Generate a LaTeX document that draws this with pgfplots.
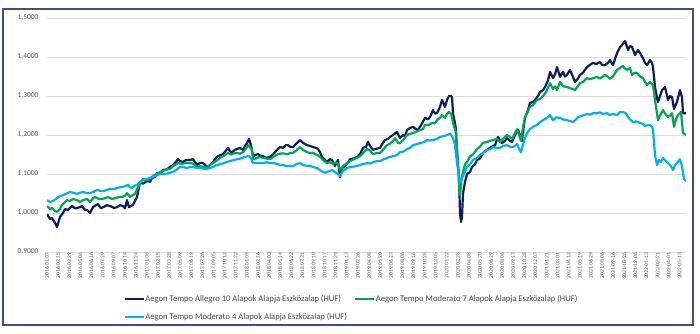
\documentclass[border=0pt]{standalone}
\usepackage{pgfplots}
\pgfplotsset{compat=1.18}
\usepackage{fontspec}
\setmainfont{Carlito}
\definecolor{navyc}{HTML}{0B1F5F}
\definecolor{greenc}{HTML}{00A650}
\definecolor{lbluec}{HTML}{00B0F0}
\definecolor{framec}{HTML}{3F5184}
\definecolor{gridc}{HTML}{DDDDDD}
\definecolor{tickc}{HTML}{595959}
\begin{document}
\begin{tikzpicture}[x=1pt,y=1pt]
\path[use as bounding box] (0,0) rectangle (700,333);
\fill[white] (0,0) rectangle (700,333);
\draw[framec, line width=1.6pt] (3,8) rectangle (693,324);
\begin{axis}[
  at={(47pt,81pt)}, anchor=south west,
  scale only axis, width=639pt, height=234pt,
  xmin=47, xmax=686, ymin=0.9, ymax=1.5,
  axis line style={draw=none},
  major tick length=0pt,
  ymajorgrids, grid style={gridc, line width=0.9pt},
  ytick={0.9,1,1.1,1.2,1.3,1.4,1.5},
  yticklabel style={font=\fontsize{7.5}{8}\selectfont, text=tickc, xshift=-5pt,
    /pgf/number format/.cd, fixed, fixed zerofill, precision=4, use comma, assume math mode=true},
  xtick={47,58.1,...,681},
  xticklabels={2016.01.07,2016.02.15,2016.03.29,2016.05.06,2016.06.16,2016.07.29,2016.09.07,2016.10.14,2016.11.24,2017.01.06,2017.02.15,2017.03.28,2017.05.09,2017.06.19,2017.07.26,2017.09.05,2017.10.12,2017.11.22,2018.01.09,2018.02.16,2018.04.03,2018.05.14,2018.06.22,2018.07.31,2018.09.10,2018.10.17,2018.11.29,2019.01.17,2019.02.26,2019.04.08,2019.05.20,2019.06.27,2019.08.06,2019.09.16,2019.10.28,2019.12.05,2020.01.22,2020.02.28,2020.04.08,2020.05.20,2020.06.29,2020.08.06,2020.09.17,2020.10.28,2020.12.07,2021.01.21,2021.03.01,2021.04.12,2021.05.19,2021.06.29,2021.08.06,2021-09-16,2021-10-26,2021-12-06,2022-01-13,2022-02-21,2022-04-01,2022-05-13},
  x tick label style={rotate=90, anchor=east, font=\fontsize{5.5}{6}\selectfont, text=tickc, inner sep=1pt},
  legend columns=2,
  legend style={at={(0.120,-0.162)}, anchor=north west, draw=none, fill=none,
    font=\fontsize{8.6}{9.5}\selectfont, text=tickc!80!black,
    column sep=0pt, row sep=0pt, inner sep=0pt,
    /tikz/every even column/.append style={column sep=7pt},
    nodes={text height=6.5pt, text depth=2pt, inner ysep=4.75pt, inner xsep=0.5pt}},
  legend cell align=left,
  legend image code/.code={\draw[#1, line width=2pt] (0pt,0pt) -- (19pt,0pt);},
  every axis plot/.append style={line width=2.2pt, line join=round},
]
\addplot[navyc] coordinates {
(47,0.997)(50,0.985)(52,0.987)(55,0.975)(57,0.964)(60,0.990)(63,1.000)(65,1.010)(68,1.008)(72,1.018)
(75,1.012)(77,1.013)(80,1.015)(82,1.018)(85,1.008)(87,1.008)(90,1.000)(93,1.015)(96,1.020)(98,1.023)
(101,1.012)(103,1.015)(107,1.020)(110,1.018)(114,1.013)(117,1.015)(120,1.020)(123,1.018)(125,1.012)(127,1.033)
(129,1.015)(133,1.021)(137,1.041)(140,1.079)(143,1.075)(147,1.082)(150,1.080)(152,1.090)(155,1.092)(157,1.103)
(160,1.100)(163,1.110)(167,1.112)(170,1.118)(174,1.125)(178,1.138)(180,1.133)(183,1.131)(186,1.136)(190,1.136)
(193,1.138)(197,1.123)(200,1.128)(203,1.128)(206,1.121)(208,1.118)(211,1.126)(213,1.131)(216,1.141)(218,1.146)
(221,1.149)(223,1.151)(226,1.160)(228,1.167)(230,1.158)(232,1.156)(235,1.162)(238,1.165)(240,1.167)(243,1.162)
(245,1.172)(247,1.179)(249,1.190)(251,1.174)(253,1.146)(256,1.149)(258,1.151)(261,1.146)(263,1.146)(266,1.141)
(270,1.144)(273,1.150)(277,1.162)(280,1.169)(283,1.167)(286,1.174)(288,1.174)(290,1.170)(293,1.169)(296,1.177)
(300,1.187)(303,1.180)(307,1.174)(310,1.172)(313,1.169)(316,1.167)(318,1.164)(320,1.156)(322,1.144)(325,1.136)
(327,1.131)(330,1.138)(332,1.136)(335,1.121)(338,1.136)(340,1.092)(342,1.115)(345,1.121)(348,1.130)(350,1.138)
(354,1.140)(357,1.144)(360,1.151)(363,1.167)(366,1.170)(368,1.182)(370,1.172)(373,1.162)(377,1.165)(380,1.167)
(383,1.180)(385,1.187)(388,1.190)(390,1.195)(393,1.200)(397,1.208)(400,1.192)(403,1.200)(405,1.197)(407,1.213)
(410,1.218)(413,1.221)(416,1.215)(418,1.213)(421,1.225)(425,1.244)(428,1.240)(430,1.246)(433,1.264)(435,1.255)
(437,1.256)(440,1.272)(442,1.290)(444,1.278)(445,1.272)(447,1.290)(449,1.300)(451,1.300)(452,1.297)(453,1.256)
(455,1.230)(456,1.213)(457,1.154)(459,1.092)(460,1.000)(461,0.977)(462,0.990)(463,1.050)(465,1.080)(467,1.100)
(470,1.105)(472,1.118)(475,1.125)(477,1.136)(480,1.140)(483,1.154)(486,1.160)(490,1.167)(493,1.172)(495,1.174)
(498,1.195)(500,1.185)(502,1.179)(505,1.185)(507,1.192)(510,1.185)(512,1.182)(515,1.200)(518,1.213)(520,1.200)
(522,1.185)(525,1.246)(527,1.256)(530,1.282)(533,1.285)(535,1.290)(538,1.300)(540,1.310)(543,1.315)(545,1.323)
(548,1.340)(550,1.362)(553,1.346)(555,1.355)(557,1.374)(560,1.349)(563,1.362)(565,1.350)(567,1.354)(570,1.367)
(572,1.355)(575,1.336)(578,1.345)(580,1.354)(583,1.360)(587,1.374)(590,1.380)(593,1.385)(596,1.382)(600,1.387)
(602,1.380)(605,1.379)(608,1.385)(610,1.392)(613,1.379)(615,1.395)(617,1.410)(620,1.425)(622,1.431)(625,1.441)
(628,1.418)(630,1.428)(632,1.426)(635,1.405)(638,1.418)(640,1.410)(643,1.397)(645,1.385)(647,1.379)(650,1.392)
(652,1.385)(653,1.374)(655,1.323)(657,1.295)(658,1.285)(660,1.300)(662,1.315)(665,1.323)(668,1.290)(670,1.300)
(672,1.297)(674,1.267)(677,1.285)(680,1.315)(682,1.297)(683,1.256)(686,1.256)
};
\addlegendentry{Aegon Tempo Allegro 10 Alapok Alapja Eszközalap (HUF)}
\addplot[greenc] coordinates {
(47,1.018)(50,1.010)(52,1.013)(55,1.005)(57,1.003)(60,1.010)(62,1.021)(65,1.028)(67,1.033)(70,1.031)
(73,1.036)(77,1.033)(80,1.028)(83,1.033)(87,1.036)(90,1.028)(93,1.038)(95,1.041)(99,1.036)(102,1.036)
(105,1.038)(108,1.041)(112,1.036)(115,1.038)(119,1.041)(122,1.041)(125,1.044)(127,1.051)(130,1.041)(133,1.046)
(135,1.049)(138,1.067)(141,1.080)(143,1.087)(147,1.085)(150,1.087)(153,1.095)(157,1.100)(160,1.105)(163,1.108)
(167,1.112)(170,1.113)(174,1.122)(178,1.128)(182,1.126)(186,1.128)(190,1.128)(193,1.127)(197,1.118)(200,1.120)
(204,1.118)(207,1.118)(210,1.123)(213,1.128)(216,1.133)(220,1.141)(224,1.147)(228,1.154)(231,1.150)(234,1.153)
(237,1.154)(240,1.152)(243,1.156)(246,1.165)(248,1.174)(250,1.168)(252,1.162)(253,1.138)(256,1.140)(260,1.144)
(263,1.141)(266,1.140)(270,1.138)(274,1.145)(278,1.151)(282,1.153)(285,1.152)(288,1.151)(290,1.154)(293,1.154)
(296,1.160)(300,1.169)(303,1.162)(307,1.156)(310,1.154)(313,1.154)(317,1.149)(320,1.144)(323,1.136)(327,1.128)
(330,1.130)(333,1.126)(336,1.130)(338,1.125)(340,1.110)(343,1.120)(347,1.128)(350,1.133)(354,1.138)(357,1.141)
(360,1.146)(364,1.156)(367,1.164)(370,1.160)(373,1.151)(377,1.154)(380,1.154)(383,1.162)(387,1.174)(390,1.178)
(393,1.185)(395,1.192)(398,1.180)(400,1.179)(404,1.190)(407,1.200)(410,1.203)(413,1.205)(416,1.208)(420,1.213)
(423,1.215)(425,1.226)(428,1.225)(432,1.231)(435,1.230)(437,1.238)(440,1.244)(442,1.251)(444,1.246)(445,1.244)
(447,1.254)(449,1.259)(451,1.255)(452,1.246)(453,1.231)(455,1.215)(456,1.205)(458,1.128)(459,1.070)(460,1.046)
(462,1.095)(465,1.125)(467,1.130)(470,1.145)(473,1.150)(477,1.164)(480,1.170)(483,1.180)(487,1.182)(490,1.185)
(493,1.187)(497,1.190)(500,1.182)(503,1.190)(507,1.200)(510,1.195)(512,1.190)(515,1.205)(517,1.215)(519,1.200)
(521,1.185)(523,1.220)(525,1.246)(527,1.256)(530,1.272)(533,1.277)(537,1.290)(540,1.292)(543,1.300)(546,1.310)
(550,1.333)(553,1.318)(555,1.325)(557,1.315)(560,1.336)(563,1.325)(567,1.323)(570,1.320)(573,1.318)(575,1.315)
(578,1.325)(580,1.333)(583,1.336)(587,1.346)(590,1.343)(593,1.346)(597,1.349)(600,1.345)(603,1.350)(605,1.354)
(608,1.349)(610,1.344)(613,1.350)(617,1.367)(620,1.372)(623,1.377)(625,1.370)(627,1.367)(630,1.372)(632,1.354)
(635,1.360)(637,1.359)(640,1.350)(643,1.346)(645,1.336)(647,1.328)(650,1.336)(652,1.330)(653,1.328)(655,1.290)
(656,1.272)(658,1.238)(660,1.250)(663,1.264)(665,1.255)(668,1.246)(670,1.250)(672,1.256)(674,1.221)(676,1.240)
(678,1.251)(681,1.259)(683,1.205)(686,1.200)
};
\addlegendentry{Aegon Tempo Moderato 7 Alapok Alapja Eszközalap (HUF)}
\addplot[lbluec] coordinates {
(47,1.033)(50,1.028)(53,1.031)(56,1.036)(58,1.041)(61,1.044)(63,1.046)(66,1.049)(70,1.054)(73,1.052)
(77,1.049)(80,1.052)(83,1.054)(87,1.051)(90,1.051)(93,1.054)(97,1.059)(100,1.057)(103,1.056)(107,1.059)
(110,1.062)(113,1.061)(117,1.064)(120,1.066)(123,1.067)(126,1.070)(128,1.072)(130,1.066)(132,1.064)(135,1.070)
(137,1.072)(140,1.079)(143,1.084)(147,1.087)(150,1.090)(153,1.092)(157,1.097)(160,1.100)(165,1.100)(170,1.103)
(175,1.108)(180,1.118)(183,1.118)(187,1.115)(190,1.118)(193,1.118)(197,1.115)(200,1.116)(204,1.113)(207,1.113)
(210,1.115)(213,1.118)(217,1.123)(220,1.125)(224,1.128)(227,1.131)(230,1.133)(234,1.136)(237,1.138)(241,1.140)
(245,1.144)(249,1.146)(251,1.140)(253,1.128)(256,1.128)(260,1.128)(263,1.128)(267,1.130)(270,1.128)(273,1.128)
(277,1.126)(280,1.123)(283,1.123)(287,1.120)(290,1.121)(293,1.120)(297,1.126)(300,1.128)(303,1.123)(307,1.121)
(310,1.121)(313,1.118)(317,1.115)(320,1.110)(323,1.105)(325,1.103)(328,1.106)(332,1.110)(335,1.105)(338,1.100)
(340,1.095)(343,1.108)(347,1.115)(350,1.118)(354,1.119)(357,1.121)(360,1.123)(364,1.126)(367,1.128)(370,1.127)
(374,1.131)(377,1.133)(380,1.133)(384,1.138)(387,1.141)(390,1.144)(394,1.146)(397,1.149)(400,1.156)(404,1.158)
(407,1.164)(410,1.167)(413,1.174)(417,1.177)(420,1.179)(424,1.182)(427,1.187)(430,1.186)(433,1.187)(437,1.190)
(440,1.195)(444,1.197)(447,1.200)(450,1.203)(452,1.197)(453,1.192)(455,1.174)(456,1.150)(458,1.110)(460,1.077)
(462,1.090)(464,1.100)(467,1.118)(470,1.125)(473,1.136)(477,1.141)(480,1.149)(483,1.154)(487,1.162)(490,1.163)
(493,1.169)(497,1.167)(500,1.167)(503,1.172)(507,1.174)(510,1.170)(513,1.169)(515,1.172)(517,1.177)(519,1.165)
(521,1.156)(523,1.175)(525,1.192)(527,1.205)(530,1.215)(533,1.221)(537,1.226)(540,1.233)(543,1.238)(547,1.244)
(550,1.251)(553,1.238)(556,1.245)(560,1.244)(563,1.240)(567,1.238)(570,1.236)(573,1.233)(576,1.240)(578,1.246)
(582,1.249)(587,1.254)(590,1.252)(593,1.256)(597,1.256)(600,1.258)(603,1.254)(607,1.256)(610,1.251)(613,1.254)
(617,1.251)(620,1.259)(623,1.259)(626,1.255)(628,1.246)(630,1.240)(633,1.233)(636,1.235)(640,1.231)(643,1.228)
(645,1.223)(648,1.226)(650,1.226)(652,1.221)(653,1.213)(655,1.149)(657,1.123)(659,1.136)(661,1.131)(663,1.141)
(666,1.133)(668,1.128)(671,1.120)(673,1.110)(675,1.122)(677,1.128)(680,1.138)(682,1.120)(684,1.087)(686,1.082)
};
\addlegendentry{Aegon Tempo Moderato 4 Alapok Alapja Eszközalap (HUF)}
\end{axis}
\end{tikzpicture}
\end{document}
